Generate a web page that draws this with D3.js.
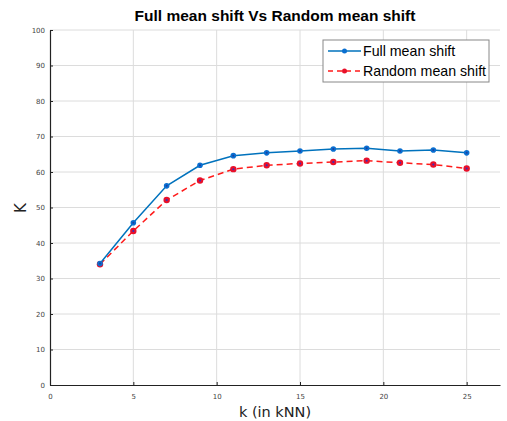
<!DOCTYPE html>
<html>
<head>
<meta charset="utf-8">
<script src="https://cdn.jsdelivr.net/npm/d3@7"></script>
<style>
  body { margin: 0; background: #fff; }
  svg { display: block; }
  .tick text { font-family: "DejaVu Sans", sans-serif; font-size: 7px; fill: #444; }
</style>
</head>
<body>
<div id="chart"></div>
<script>
const kValues = [3, 5, 7, 9, 11, 13, 15, 17, 19, 21, 23, 25];
const fullShift = [34.2, 45.7, 56.1, 61.9, 64.6, 65.4, 65.9, 66.5, 66.7, 65.9, 66.2, 65.4];
const randomShift = [34.0, 43.4, 52.1, 57.6, 60.8, 61.9, 62.4, 62.8, 63.2, 62.6, 62.1, 61.0];
const xTicks = [0, 5, 10, 15, 20, 25];
const yTicks = [0, 10, 20, 30, 40, 50, 60, 70, 80, 90, 100];

const W = 507, H = 421;
const margin = { top: 30, right: 7, bottom: 36, left: 50 };
const iw = W - margin.left - margin.right;
const ih = H - margin.top - margin.bottom;

const svg = d3.select("#chart").append("svg")
  .attr("width", W).attr("height", H);

const g = svg.append("g")
  .attr("transform", `translate(${margin.left},${margin.top})`);

const x = d3.scaleLinear().domain([0, 27]).range([0, iw]);
const y = d3.scaleLinear().domain([0, 100]).range([ih, 0]);

// grid
g.append("g").selectAll("line.h")
  .data(yTicks.slice(1))
  .enter().append("line")
  .attr("x1", 0).attr("x2", iw)
  .attr("y1", d => y(d)).attr("y2", d => y(d))
  .attr("stroke", "#dcdcdc").attr("stroke-width", 1);
g.append("g").selectAll("line.v")
  .data(xTicks.slice(1))
  .enter().append("line")
  .attr("x1", d => x(d)).attr("x2", d => x(d))
  .attr("y1", 0).attr("y2", ih)
  .attr("stroke", "#dcdcdc").attr("stroke-width", 1);

// axes
const xAxis = g.append("g")
  .attr("transform", `translate(0,${ih})`)
  .call(d3.axisBottom(x).tickValues(xTicks).tickSize(-3).tickPadding(9).tickSizeOuter(0));
const yAxis = g.append("g")
  .call(d3.axisLeft(y).tickValues(yTicks).tickSize(-3).tickPadding(5).tickSizeOuter(0));
[xAxis, yAxis].forEach(a => {
  a.select(".domain").attr("stroke", "#222").attr("stroke-width", 1.2);
  a.selectAll(".tick line").attr("stroke", "#222");
});

// lines
const line = d3.line().x((d, i) => x(kValues[i])).y(d => y(d));

g.append("path").datum(randomShift)
  .attr("fill", "none").attr("stroke", "#ff1a1a")
  .attr("stroke-width", 1.5).attr("stroke-dasharray", "6,4")
  .attr("d", line);
g.append("path").datum(fullShift)
  .attr("fill", "none").attr("stroke", "#0072BD")
  .attr("stroke-width", 1.5)
  .attr("d", line);

g.append("g").selectAll("circle")
  .data(randomShift).enter().append("circle")
  .attr("cx", (d, i) => x(kValues[i])).attr("cy", d => y(d))
  .attr("r", 3.2).attr("fill", "#e8102a");
g.append("g").selectAll("circle")
  .data(randomShift).enter().append("circle")
  .attr("cx", (d, i) => x(kValues[i])).attr("cy", d => y(d))
  .attr("r", 1).attr("fill", "#3030c0");

g.append("g").selectAll("circle")
  .data(fullShift).enter().append("circle")
  .attr("cx", (d, i) => x(kValues[i])).attr("cy", d => y(d))
  .attr("r", 2.8).attr("fill", "#0a6fd0");
g.append("g").selectAll("circle")
  .data(fullShift).enter().append("circle")
  .attr("cx", (d, i) => x(kValues[i])).attr("cy", d => y(d))
  .attr("r", 1).attr("fill", "#1f3fa0");

// title & labels
svg.append("text")
  .attr("x", 275).attr("y", 21)
  .attr("text-anchor", "middle")
  .attr("font-family", "Liberation Sans, Arial, sans-serif")
  .attr("font-weight", "bold").attr("font-size", 15.5)
  .text("Full mean shift Vs Random mean shift");

svg.append("text")
  .attr("x", 275).attr("y", 417)
  .attr("text-anchor", "middle")
  .attr("font-family", "DejaVu Sans, sans-serif")
  .attr("font-size", 14.5).attr("fill", "#222")
  .text("k (in kNN)");

svg.append("text")
  .attr("transform", "translate(26,208) rotate(-90)")
  .attr("text-anchor", "middle")
  .attr("font-family", "DejaVu Sans, sans-serif")
  .attr("font-size", 15).attr("fill", "#222")
  .text("K");

// legend
const legend = svg.append("g").attr("transform", "translate(323,40)");
legend.append("rect")
  .attr("width", 166).attr("height", 42)
  .attr("fill", "#fff").attr("stroke", "#888").attr("stroke-width", 1);
const legendItems = [
  { label: "Full mean shift", color: "#0072BD", dash: null, dot: "#0a6fd0" },
  { label: "Random mean shift", color: "#ff1a1a", dash: "5,4", dot: "#e8102a" }
];
legendItems.forEach((d, i) => {
  const yy = 11 + i * 20;
  legend.append("line")
    .attr("x1", 5).attr("x2", 38).attr("y1", yy).attr("y2", yy)
    .attr("stroke", d.color).attr("stroke-width", 1.5)
    .attr("stroke-dasharray", d.dash);
  legend.append("circle").attr("cx", 21.5).attr("cy", yy).attr("r", 2.5).attr("fill", d.dot);
  legend.append("text")
    .attr("x", 40).attr("y", yy + 5)
    .attr("font-family", "Liberation Sans, Arial, sans-serif")
    .attr("font-size", 14.2)
    .text(d.label);
});
</script>
</body>
</html>
